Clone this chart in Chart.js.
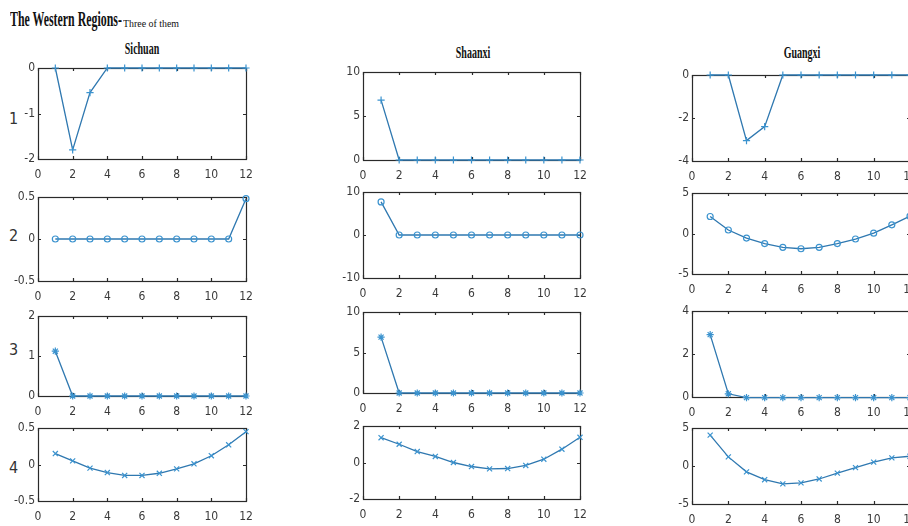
<!DOCTYPE html>
<html><head><meta charset="utf-8">
<script src="https://cdn.jsdelivr.net/npm/chart.js@4.4.0/dist/chart.umd.min.js"></script>
<style>
html,body{margin:0;padding:0;background:#fff;width:908px;height:526px;overflow:hidden;position:relative}
canvas{position:absolute}
.t{position:absolute;font-family:'Liberation Serif','Times New Roman',serif;color:#111;white-space:nowrap;line-height:1}
.r{position:absolute;font-family:'Liberation Sans Narrow','DejaVu Sans Condensed',Arial,sans-serif;color:#333;font-size:16px;line-height:1}
</style></head><body>
<div class="t" style="left:10px;top:9px;font-weight:bold;font-size:21px;transform-origin:0 0;transform:scaleX(0.565)">The Western Regions-</div>
<div class="t" style="left:123px;top:17.5px;font-size:11px;transform-origin:0 0;transform:scaleX(0.9)">Three of them</div>
<div class="t" style="left:142px;top:40px;font-weight:bold;font-size:17.5px;transform:translateX(-50%) scaleX(0.57)">Sichuan</div>
<div class="t" style="left:473px;top:44px;font-weight:bold;font-size:17.5px;transform:translateX(-50%) scaleX(0.57)">Shaanxi</div>
<div class="t" style="left:802px;top:44px;font-weight:bold;font-size:17.5px;transform:translateX(-50%) scaleX(0.57)">Guangxi</div>
<div class="r" style="left:9px;top:111px">1</div>
<div class="r" style="left:9px;top:228px">2</div>
<div class="r" style="left:9px;top:342px">3</div>
<div class="r" style="left:9px;top:460px">4</div>
<script>
// ---- data ----
const xValues = [1,2,3,4,5,6,7,8,9,10,11,12];
const xTicks = [0,2,4,6,8,10,12];

const sichuan1 = [0,-1.8,-0.54,0,0,0,0,0,0,0,0,0];
const sichuan2 = [0,0,0,0,0,0,0,0,0,0,0,0.48];
const sichuan3 = [1.12,0,0,0,0,0,0,0,0,0,0,0];
const sichuan4 = [0.15,0.05,-0.05,-0.11,-0.15,-0.15,-0.12,-0.06,0.01,0.12,0.27,0.45];

const shaanxi1 = [6.8,0,0,0,0,0,0,0,0,0,0,0];
const shaanxi2 = [7.7,0,0,0,0,0,0,0,0,0,0,0];
const shaanxi3 = [6.9,0,0,0,0,0,0,0,0,0,0,0];
const shaanxi4 = [1.36,1.0,0.6,0.33,0.0,-0.22,-0.35,-0.33,-0.16,0.18,0.73,1.38];

const guangxi1 = [0,0,-3.05,-2.4,0,0,0,0,0,0,0,0];
const guangxi2 = [2.1,0.43,-0.56,-1.24,-1.71,-1.88,-1.71,-1.24,-0.68,0.04,1.07,2.14];
const guangxi3 = [2.9,0.15,-0.03,-0.03,-0.03,-0.03,-0.03,-0.03,-0.03,-0.03,-0.03,-0.03];
const guangxi4 = [4.06,1.2,-0.77,-1.8,-2.35,-2.22,-1.71,-0.94,-0.21,0.51,1.07,1.28];

// y ranges [min, max, step]
const sichuanRanges = [[-2,0,1],[-0.5,0.5,0.5],[0,2,1],[-0.5,0.5,0.5]];
const shaanxiRanges = [[0,10,5],[-10,10,10],[0,10,5],[-2,2,2]];
const guangxiRanges = [[-4,0,2],[-5,5,5],[0,4,2],[-5,5,5]];
const rowMarkers = ['cross','circle','star','crossRot'];

// ---- layout (plot area rects: left, top, right, bottom) ----
const sichuanRects = [[38,68,246,159],[38,197,246,281],[38,316,246,396],[38,428,246,501]];
const shaanxiRects = [[363,72,580,160],[363,192,580,278],[363,312,580,393],[363,426,580,499]];
const guangxiRects = [[692,75,910,161],[692,193,910,274],[692,311,910,397],[692,428,910,504]];

const tickFont = {family:"'Liberation Sans Narrow','DejaVu Sans Condensed',Arial,sans-serif", size:12};

const boxPlugin = {
  id:'box',
  beforeDatasetsDraw(chart){
    const {ctx, chartArea:a, scales:{x,y}} = chart;
    ctx.save();
    ctx.strokeStyle='#2a2a2a'; ctx.lineWidth=1.2;
    ctx.strokeRect(a.left+0.5, a.top+0.5, a.right-a.left, a.bottom-a.top);
    ctx.beginPath();
    x.ticks.forEach(t=>{const px=Math.round(x.getPixelForValue(t.value))+0.5;
      ctx.moveTo(px,a.bottom); ctx.lineTo(px,a.bottom-3); ctx.moveTo(px,a.top); ctx.lineTo(px,a.top+3);});
    y.ticks.forEach(t=>{const py=Math.round(y.getPixelForValue(t.value))+0.5;
      ctx.moveTo(a.left,py); ctx.lineTo(a.left+3,py); ctx.moveTo(a.right,py); ctx.lineTo(a.right-3,py);});
    ctx.stroke(); ctx.restore();
  }
};

function makeChart(rect, values, range, marker){
  const [L,T,R,B]=rect;
  const YW=34, PT=14, PR=20, XH=28;
  const c=document.createElement('canvas');
  const w=R-L+YW+PR, h=B-T+PT+XH;
  c.width=w; c.height=h;
  c.style.left=(L-YW)+'px'; c.style.top=(T-PT)+'px';
  c.style.width=w+'px'; c.style.height=h+'px';
  document.body.appendChild(c);
  new Chart(c,{
    type:'line',
    data:{datasets:[{
      data:xValues.map((x,i)=>({x:x,y:values[i]})),
      borderColor:'#2f78b0', borderWidth:1.3, tension:0,
      pointStyle:marker, pointRadius:marker==='circle'?3:3.6,
      pointBorderColor:'#3b93cf', pointBackgroundColor:'rgba(0,0,0,0)', pointBorderWidth:1.2,
      clip:false
    }]},
    options:{
      responsive:false, animation:false, devicePixelRatio:1,
      layout:{padding:{top:PT,right:PR,left:0,bottom:0}},
      plugins:{legend:{display:false},tooltip:{enabled:false}},
      scales:{
        x:{type:'linear',min:0,max:12,
           afterBuildTicks(s){s.ticks=xTicks.map(v=>({value:v}));},
           ticks:{font:tickFont,color:'#3a3a3a',padding:9,maxRotation:0,autoSkip:false},
           grid:{display:false,drawTicks:false},border:{display:false},
           afterFit(s){s.height=XH;}},
        y:{type:'linear',min:range[0],max:range[1],
           ticks:{stepSize:range[2],font:tickFont,color:'#3a3a3a',padding:3},
           grid:{display:false,drawTicks:false},border:{display:false},
           afterFit(s){s.width=YW;}}
      }
    },
    plugins:[boxPlugin]
  });
}

const sichuanData=[sichuan1,sichuan2,sichuan3,sichuan4];
const shaanxiData=[shaanxi1,shaanxi2,shaanxi3,shaanxi4];
const guangxiData=[guangxi1,guangxi2,guangxi3,guangxi4];
for(let i=0;i<4;i++){
  makeChart(sichuanRects[i], sichuanData[i], sichuanRanges[i], rowMarkers[i]);
  makeChart(shaanxiRects[i], shaanxiData[i], shaanxiRanges[i], rowMarkers[i]);
  makeChart(guangxiRects[i], guangxiData[i], guangxiRanges[i], rowMarkers[i]);
}
</script>
</body></html>
